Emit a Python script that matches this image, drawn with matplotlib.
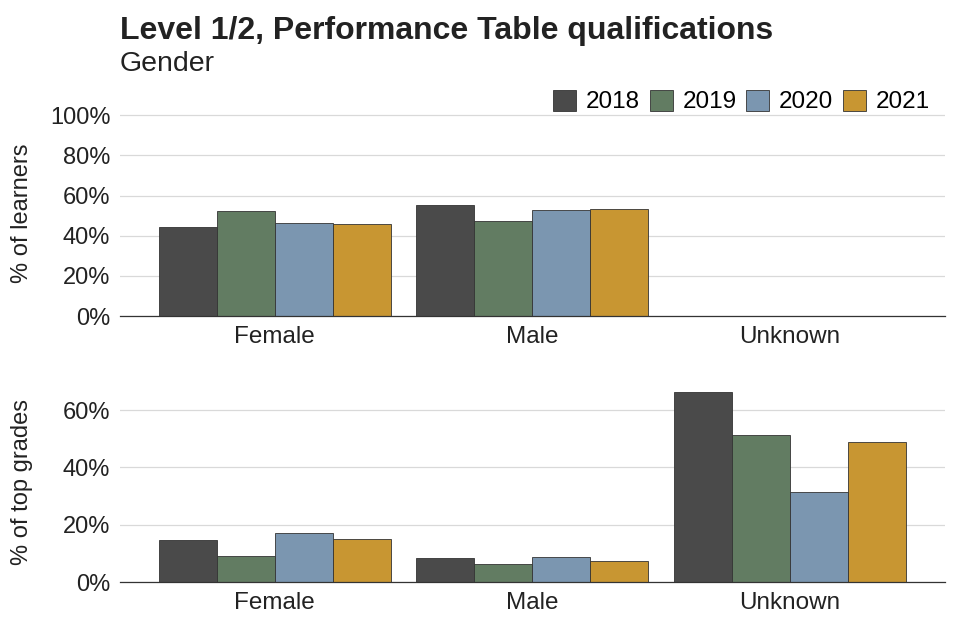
import matplotlib
matplotlib.use("Agg")
import matplotlib.pyplot as plt
import numpy as np
from matplotlib.ticker import FuncFormatter

plt.rcParams['font.family'] = ['Liberation Sans', 'DejaVu Sans']

categories = ["Female", "Male", "Unknown"]
years = ["2018", "2019", "2020", "2021"]
colors = ["#4a4a4a", "#627c62", "#7b96b0", "#c89632"]

learners = {
    "2018": [44.3, 55.2, 0.2],
    "2019": [52.3, 47.2, 0.2],
    "2020": [46.4, 53.0, 0.2],
    "2021": [45.9, 53.5, 0.2],
}
top_grades = {
    "2018": [14.7, 8.3, 66.2],
    "2019": [9.2, 6.3, 51.2],
    "2020": [17.1, 8.8, 31.4],
    "2021": [14.9, 7.2, 48.8],
}

fig = plt.figure(figsize=(9.6, 6.4), dpi=100)
ax1 = fig.add_axes([0.125, 0.506, 0.859, 0.322])
ax2 = fig.add_axes([0.125, 0.0906, 0.859, 0.311])

x = np.arange(len(categories))
bw = 0.225
pct = FuncFormatter(lambda v, p: f"{v:.0f}%")
TXT = "#222222"

def draw(ax, data, ylim, yticks, ylabel):
    for i, y in enumerate(years):
        ax.bar(x + (i - 1.5) * bw, data[y], width=bw, color=colors[i],
               edgecolor="#333333", linewidth=0.6, label=y, zorder=3)
    ax.set_xlim(-0.6, 2.6)
    ax.set_ylim(*ylim)
    ax.set_yticks(yticks)
    ax.yaxis.set_major_formatter(pct)
    ax.set_xticks(x)
    ax.set_xticklabels(categories)
    ax.tick_params(axis="y", length=0, labelsize=17, colors=TXT, pad=7)
    ax.tick_params(axis="x", length=0, labelsize=17.5, colors=TXT, pad=7)
    ax.grid(axis="y", color="#d9d9d9", linewidth=0.9, zorder=0)
    for s in ["top", "right", "left"]:
        ax.spines[s].set_visible(False)
    ax.spines["bottom"].set_color("#333333")
    ax.spines["bottom"].set_linewidth(0.9)
    ax.spines["bottom"].set_zorder(4)
    ax.set_ylabel(ylabel, fontsize=17, color=TXT)
    ax.yaxis.set_label_coords(-0.106, 0.5)

draw(ax1, learners, (0, 102.5), [0, 20, 40, 60, 80, 100], "% of learners")
draw(ax2, top_grades, (0, 69.5), [0, 20, 40, 60], "% of top grades")

fig.text(0.125, 1 - 39 / 640, "Level 1/2, Performance Table qualifications",
         fontsize=23, fontweight="bold", color=TXT, va="baseline")
fig.text(0.125, 1 - 71 / 640, "Gender", fontsize=20.5, color=TXT, va="baseline")

handles, labels = ax1.get_legend_handles_labels()
fig.legend(handles, labels, loc="center right", bbox_to_anchor=(930 / 960, 1 - 101.5 / 640),
           ncol=4, frameon=False, fontsize=17.5, handlelength=0.95, handleheight=0.95,
           handletextpad=0.4, columnspacing=0.4, borderaxespad=0, borderpad=0)

fig.savefig("out.png", dpi=100)
